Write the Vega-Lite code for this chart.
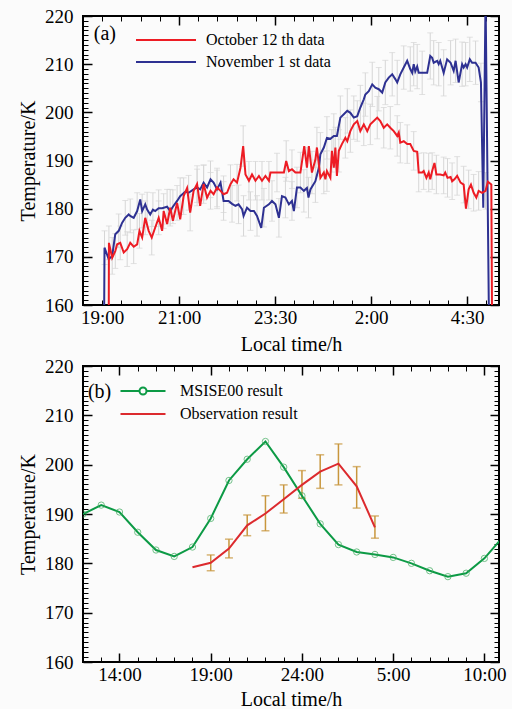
{
 "$schema": "https://vega.github.io/schema/vega-lite/v6.json",
 "background": "#fbfbfb",
 "padding": {"left": 17, "top": 6, "right": 4, "bottom": 2},
 "spacing": 1,
 "resolve": {"scale": {"color": "independent"}, "legend": {"color": "independent"}},
 "config": {
  "view": {"stroke": "#000000", "strokeWidth": 2},
  "font": "Liberation Serif",
  "axis": {"domain": false, "grid": false, "tickColor": "#000000", "labelFont": "Liberation Serif", "labelFontSize": 19, "labelColor": "#000000", "titleFont": "Liberation Serif", "titleFontSize": 20, "titleFontWeight": "normal", "titleColor": "#000000", "labelFlush": false, "labelOverlap": false},
  "legend": {"labelFont": "Liberation Serif", "labelFontSize": 16, "labelColor": "#000000", "padding": 0}
 },
 "datasets": {
  "a": [
   {"s":"nov","h":19.05,"T":158},{"s":"nov","h":19.06,"T":171.9,"e":3.5},{"s":"nov","h":19.17,"T":169.5},{"s":"nov","h":19.26,"T":170.2,"e":3.8},{"s":"nov","h":19.34,"T":174.7},{"s":"nov","h":19.43,"T":175.4,"e":3.5},{"s":"nov","h":19.52,"T":177.1},{"s":"nov","h":19.60,"T":178.1,"e":3.6},{"s":"nov","h":19.69,"T":178.8},{"s":"nov","h":19.73,"T":178.5,"e":3.5},{"s":"nov","h":19.82,"T":178.1},{"s":"nov","h":19.91,"T":179.5,"e":3.8},{"s":"nov","h":19.99,"T":181.9},{"s":"nov","h":20.04,"T":179.5,"e":3.5},{"s":"nov","h":20.12,"T":180.9},{"s":"nov","h":20.17,"T":179.8,"e":3.6},{"s":"nov","h":20.25,"T":178.8},{"s":"nov","h":20.32,"T":179.8,"e":3.5},{"s":"nov","h":20.38,"T":179.5},{"s":"nov","h":20.47,"T":180.1,"e":3.8},{"s":"nov","h":20.56,"T":180.1},{"s":"nov","h":20.69,"T":180.4,"e":3.6},{"s":"nov","h":20.77,"T":179.5},{"s":"nov","h":20.84,"T":180.4,"e":3.5},{"s":"nov","h":20.95,"T":181.6},{"s":"nov","h":21.03,"T":182.6,"e":3.8},{"s":"nov","h":21.16,"T":183.5},{"s":"nov","h":21.25,"T":183.3,"e":3.6},{"s":"nov","h":21.38,"T":184.0},{"s":"nov","h":21.47,"T":184.4,"e":3.8},{"s":"nov","h":21.55,"T":184.0},{"s":"nov","h":21.64,"T":185.4,"e":3.6},{"s":"nov","h":21.73,"T":184.4},{"s":"nov","h":21.82,"T":186.1,"e":3.8},{"s":"nov","h":21.90,"T":185.4},{"s":"nov","h":21.99,"T":184.0,"e":4.0},{"s":"nov","h":22.08,"T":185.4},{"s":"nov","h":22.16,"T":181.6,"e":4.0},{"s":"nov","h":22.29,"T":181.6},{"s":"nov","h":22.38,"T":181.0,"e":3.8},{"s":"nov","h":22.47,"T":180.6},{"s":"nov","h":22.55,"T":180.9,"e":4.0},{"s":"nov","h":22.64,"T":179.9},{"s":"nov","h":22.68,"T":178.5,"e":4.2},{"s":"nov","h":22.77,"T":180.2},{"s":"nov","h":22.86,"T":179.5,"e":4.0},{"s":"nov","h":22.95,"T":179.5},{"s":"nov","h":23.03,"T":178.5,"e":4.2},{"s":"nov","h":23.14,"T":176.0},{"s":"nov","h":23.21,"T":180.2,"e":4.0},{"s":"nov","h":23.34,"T":180.9},{"s":"nov","h":23.42,"T":181.6,"e":4.2},{"s":"nov","h":23.51,"T":180.9},{"s":"nov","h":23.60,"T":178.1,"e":4.0},{"s":"nov","h":23.68,"T":182.6},{"s":"nov","h":23.77,"T":182.3,"e":4.2},{"s":"nov","h":23.86,"T":180.9},{"s":"nov","h":23.94,"T":181.6,"e":4.0},{"s":"nov","h":23.99,"T":179.5},{"s":"nov","h":24.07,"T":184.4,"e":4.2},{"s":"nov","h":24.16,"T":184.4},{"s":"nov","h":24.25,"T":183.7,"e":4.4},{"s":"nov","h":24.33,"T":184.3},{"s":"nov","h":24.37,"T":182.3,"e":4.2},{"s":"nov","h":24.42,"T":184.0},{"s":"nov","h":24.55,"T":185.7,"e":4.4},{"s":"nov","h":24.64,"T":188.5},{"s":"nov","h":24.68,"T":191.3,"e":4.5},{"s":"nov","h":24.77,"T":192.7},{"s":"nov","h":24.85,"T":194.7,"e":4.4},{"s":"nov","h":24.94,"T":194.5},{"s":"nov","h":25.03,"T":195.1,"e":4.6},{"s":"nov","h":25.11,"T":195.1},{"s":"nov","h":25.20,"T":198.9,"e":4.5},{"s":"nov","h":25.29,"T":199.6},{"s":"nov","h":25.38,"T":200.3,"e":4.6},{"s":"nov","h":25.46,"T":199.9},{"s":"nov","h":25.55,"T":198.9,"e":4.5},{"s":"nov","h":25.64,"T":199.2},{"s":"nov","h":25.72,"T":201.0,"e":4.6},{"s":"nov","h":25.81,"T":202.7},{"s":"nov","h":25.85,"T":203.7,"e":4.5},{"s":"nov","h":25.94,"T":204.4},{"s":"nov","h":26.03,"T":205.8,"e":4.6},{"s":"nov","h":26.11,"T":205.1},{"s":"nov","h":26.20,"T":204.8,"e":4.5},{"s":"nov","h":26.29,"T":204.1},{"s":"nov","h":26.37,"T":206.2,"e":4.6},{"s":"nov","h":26.46,"T":207.2},{"s":"nov","h":26.55,"T":207.9,"e":4.5},{"s":"nov","h":26.63,"T":206.9},{"s":"nov","h":26.68,"T":206.2,"e":4.6},{"s":"nov","h":26.76,"T":207.9},{"s":"nov","h":26.85,"T":209.3,"e":4.5},{"s":"nov","h":26.94,"T":210.7},{"s":"nov","h":27.02,"T":209.0,"e":4.6},{"s":"nov","h":27.07,"T":208.2},{"s":"nov","h":27.11,"T":210.0,"e":4.5},{"s":"nov","h":27.15,"T":208.5},{"s":"nov","h":27.20,"T":209.5,"e":4.6},{"s":"nov","h":27.24,"T":208.2},{"s":"nov","h":27.33,"T":208.2,"e":4.5},{"s":"nov","h":27.46,"T":208.2},{"s":"nov","h":27.54,"T":211.7,"e":4.8},{"s":"nov","h":27.59,"T":211.3},{"s":"nov","h":27.63,"T":210.3,"e":4.6},{"s":"nov","h":27.72,"T":210.7},{"s":"nov","h":27.76,"T":210.0,"e":4.5},{"s":"nov","h":27.80,"T":210.7},{"s":"nov","h":27.89,"T":208.2,"e":4.8},{"s":"nov","h":27.98,"T":211.0},{"s":"nov","h":28.07,"T":210.3,"e":4.6},{"s":"nov","h":28.15,"T":208.6},{"s":"nov","h":28.20,"T":210.7,"e":4.5},{"s":"nov","h":28.28,"T":206.2},{"s":"nov","h":28.37,"T":210.0,"e":4.6},{"s":"nov","h":28.41,"T":209.3},{"s":"nov","h":28.46,"T":210.0,"e":4.5},{"s":"nov","h":28.50,"T":209.3},{"s":"nov","h":28.57,"T":211.0,"e":4.6},{"s":"nov","h":28.63,"T":210.3},{"s":"nov","h":28.72,"T":210.3,"e":4.5},{"s":"nov","h":28.80,"T":209.3},{"s":"nov","h":28.86,"T":206.2,"e":4.0},{"s":"nov","h":28.92,"T":180.2},{"s":"nov","h":28.98,"T":224},{"s":"nov","h":29.07,"T":156},
   {"s":"oct","h":19.17,"T":156},{"s":"oct","h":19.175,"T":172.9,"e":3.5},{"s":"oct","h":19.26,"T":169.8},{"s":"oct","h":19.34,"T":171.2,"e":3.6},{"s":"oct","h":19.39,"T":172.6},{"s":"oct","h":19.47,"T":172.9,"e":3.5},{"s":"oct","h":19.56,"T":170.9},{"s":"oct","h":19.65,"T":171.6,"e":3.6},{"s":"oct","h":19.73,"T":172.9},{"s":"oct","h":19.82,"T":172.1,"e":3.5},{"s":"oct","h":19.91,"T":172.6},{"s":"oct","h":19.97,"T":175.4,"e":3.6},{"s":"oct","h":20.04,"T":174.0},{"s":"oct","h":20.12,"T":178.1,"e":3.5},{"s":"oct","h":20.21,"T":175.4},{"s":"oct","h":20.29,"T":174.0,"e":3.6},{"s":"oct","h":20.38,"T":176.1},{"s":"oct","h":20.47,"T":178.1,"e":3.5},{"s":"oct","h":20.56,"T":175.4},{"s":"oct","h":20.60,"T":179.5,"e":3.6},{"s":"oct","h":20.69,"T":176.8},{"s":"oct","h":20.77,"T":180.2,"e":3.8},{"s":"oct","h":20.84,"T":177.5},{"s":"oct","h":20.95,"T":181.2,"e":3.6},{"s":"oct","h":21.03,"T":177.8},{"s":"oct","h":21.12,"T":182.6,"e":3.8},{"s":"oct","h":21.21,"T":184.3},{"s":"oct","h":21.29,"T":179.2,"e":3.8},{"s":"oct","h":21.38,"T":183.7},{"s":"oct","h":21.47,"T":185.1,"e":3.8},{"s":"oct","h":21.55,"T":180.6},{"s":"oct","h":21.64,"T":185.1,"e":4.0},{"s":"oct","h":21.73,"T":182.3},{"s":"oct","h":21.82,"T":183.7,"e":3.8},{"s":"oct","h":21.90,"T":183.0},{"s":"oct","h":21.99,"T":184.4,"e":4.0},{"s":"oct","h":22.08,"T":183.7},{"s":"oct","h":22.16,"T":183.0,"e":3.8},{"s":"oct","h":22.25,"T":183.3},{"s":"oct","h":22.34,"T":185.1,"e":4.0},{"s":"oct","h":22.42,"T":186.1},{"s":"oct","h":22.51,"T":185.4,"e":3.8},{"s":"oct","h":22.60,"T":188.5},{"s":"oct","h":22.67,"T":193.0,"e":4.2},{"s":"oct","h":22.73,"T":187.1},{"s":"oct","h":22.82,"T":185.8,"e":4.0},{"s":"oct","h":22.90,"T":187.1},{"s":"oct","h":22.99,"T":185.8,"e":4.0},{"s":"oct","h":23.08,"T":186.8},{"s":"oct","h":23.16,"T":185.8,"e":4.0},{"s":"oct","h":23.25,"T":186.8},{"s":"oct","h":23.34,"T":185.8,"e":4.0},{"s":"oct","h":23.38,"T":187.5},{"s":"oct","h":23.55,"T":187.5,"e":4.0},{"s":"oct","h":23.73,"T":187.5},{"s":"oct","h":23.79,"T":189.9,"e":4.2},{"s":"oct","h":23.86,"T":187.8},{"s":"oct","h":23.94,"T":188.2,"e":4.0},{"s":"oct","h":24.03,"T":187.5},{"s":"oct","h":24.16,"T":187.5,"e":4.2},{"s":"oct","h":24.26,"T":193.0},{"s":"oct","h":24.33,"T":188.5,"e":4.2},{"s":"oct","h":24.38,"T":193.0},{"s":"oct","h":24.46,"T":187.5,"e":4.4},{"s":"oct","h":24.55,"T":190.2},{"s":"oct","h":24.59,"T":192.7,"e":4.2},{"s":"oct","h":24.68,"T":186.4},{"s":"oct","h":24.77,"T":187.5,"e":4.4},{"s":"oct","h":24.81,"T":186.1},{"s":"oct","h":24.85,"T":187.8,"e":4.2},{"s":"oct","h":24.94,"T":186.4},{"s":"oct","h":24.98,"T":192.0,"e":4.4},{"s":"oct","h":25.03,"T":188.5},{"s":"oct","h":25.07,"T":192.7,"e":4.2},{"s":"oct","h":25.11,"T":186.8},{"s":"oct","h":25.16,"T":192.0,"e":4.4},{"s":"oct","h":25.24,"T":193.4},{"s":"oct","h":25.33,"T":194.7,"e":4.2},{"s":"oct","h":25.38,"T":194.0},{"s":"oct","h":25.46,"T":196.1,"e":4.4},{"s":"oct","h":25.55,"T":197.5},{"s":"oct","h":25.64,"T":198.2,"e":4.2},{"s":"oct","h":25.72,"T":196.1},{"s":"oct","h":25.81,"T":197.5,"e":4.4},{"s":"oct","h":25.90,"T":196.1},{"s":"oct","h":25.98,"T":197.5,"e":4.2},{"s":"oct","h":26.07,"T":198.2},{"s":"oct","h":26.16,"T":198.9,"e":4.4},{"s":"oct","h":26.24,"T":198.2},{"s":"oct","h":26.33,"T":196.8,"e":4.2},{"s":"oct","h":26.42,"T":197.5},{"s":"oct","h":26.50,"T":196.8,"e":4.4},{"s":"oct","h":26.59,"T":196.1},{"s":"oct","h":26.68,"T":195.1,"e":4.2},{"s":"oct","h":26.72,"T":195.8},{"s":"oct","h":26.76,"T":193.7,"e":4.2},{"s":"oct","h":26.85,"T":194.0},{"s":"oct","h":26.94,"T":193.4,"e":4.0},{"s":"oct","h":27.02,"T":193.4},{"s":"oct","h":27.11,"T":192.0,"e":4.0},{"s":"oct","h":27.20,"T":191.8},{"s":"oct","h":27.24,"T":187.5,"e":4.0},{"s":"oct","h":27.33,"T":187.5},{"s":"oct","h":27.37,"T":187.8,"e":3.8},{"s":"oct","h":27.44,"T":186.4},{"s":"oct","h":27.50,"T":187.5,"e":4.0},{"s":"oct","h":27.54,"T":186.1},{"s":"oct","h":27.59,"T":187.8,"e":3.8},{"s":"oct","h":27.65,"T":189.5},{"s":"oct","h":27.70,"T":187.1,"e":4.0},{"s":"oct","h":27.80,"T":187.1},{"s":"oct","h":27.89,"T":186.9,"e":3.8},{"s":"oct","h":27.93,"T":187.5},{"s":"oct","h":27.99,"T":186.4,"e":4.0},{"s":"oct","h":28.07,"T":186.6},{"s":"oct","h":28.11,"T":185.7,"e":3.8},{"s":"oct","h":28.17,"T":186.1},{"s":"oct","h":28.24,"T":186.8,"e":4.0},{"s":"oct","h":28.33,"T":185.4},{"s":"oct","h":28.41,"T":185.0,"e":3.8},{"s":"oct","h":28.47,"T":180.0},{"s":"oct","h":28.54,"T":184.0,"e":4.0},{"s":"oct","h":28.60,"T":185.0},{"s":"oct","h":28.67,"T":183.3,"e":3.8},{"s":"oct","h":28.74,"T":182.3},{"s":"oct","h":28.80,"T":183.7,"e":4.0},{"s":"oct","h":28.89,"T":183.3},{"s":"oct","h":28.98,"T":183.7,"e":3.8},{"s":"oct","h":29.04,"T":185.6},{"s":"oct","h":29.13,"T":185.0},{"s":"oct","h":29.15,"T":156}
  ],
  "bl": [
   {"s":"msis","h":12,"T":190.0},{"s":"msis","h":13,"T":191.8},{"s":"msis","h":14,"T":190.4},{"s":"msis","h":15,"T":186.3},{"s":"msis","h":16,"T":182.7},{"s":"msis","h":17,"T":181.4},{"s":"msis","h":18,"T":183.3},{"s":"msis","h":19,"T":189.1},{"s":"msis","h":20,"T":196.8},{"s":"msis","h":21,"T":201.1},{"s":"msis","h":22,"T":204.7},{"s":"msis","h":23,"T":199.5},{"s":"msis","h":24,"T":193.7},{"s":"msis","h":25,"T":188.0},{"s":"msis","h":26,"T":183.8},{"s":"msis","h":27,"T":182.3},{"s":"msis","h":28,"T":181.8},{"s":"msis","h":29,"T":181.2},{"s":"msis","h":30,"T":180.0},{"s":"msis","h":31,"T":178.5},{"s":"msis","h":32,"T":177.3},{"s":"msis","h":33,"T":178.0},{"s":"msis","h":34,"T":181.0},{"s":"msis","h":35,"T":185.3},
   {"s":"obs","h":18,"T":179.2},{"s":"obs","h":19,"T":180.1},{"s":"obs","h":20,"T":183.0},{"s":"obs","h":21,"T":187.7},{"s":"obs","h":22,"T":190.1},{"s":"obs","h":23,"T":193.0},{"s":"obs","h":24,"T":195.9},{"s":"obs","h":25,"T":198.6},{"s":"obs","h":26,"T":200.2},{"s":"obs","h":27,"T":195.6},{"s":"obs","h":28,"T":187.3}
  ],
  "be": [
   {"h":19,"lo":178.5,"hi":181.7},{"h":20,"lo":181.1,"hi":184.9},{"h":21,"lo":185.6,"hi":189.8},{"h":22,"lo":186.6,"hi":193.7},{"h":23,"lo":190.2,"hi":195.9},{"h":24,"lo":193.2,"hi":198.8},{"h":25,"lo":195.2,"hi":202.0},{"h":26,"lo":195.9,"hi":204.2},{"h":27,"lo":191.2,"hi":199.6},{"h":28,"lo":185.1,"hi":189.6}
  ]
 },
 "vconcat": [
  {
   "width": 416, "height": 289,
   "resolve": {"axis": {"x": "independent", "y": "independent"}},
   "layer": [
    {
     "data": {"name": "a"},
     "transform": [{"filter": "datum.s === 'nov' && isValid(datum.e)"}],
     "mark": {"type": "errorbar", "color": "#d6d6d6", "thickness": 1, "ticks": {"size": 6, "color": "#d6d6d6"}},
     "encoding": {
      "x": {"field": "h", "type": "quantitative", "scale": {"domain": [18.5, 29.33], "nice": false, "zero": false},
            "axis": {"orient": "bottom", "values": [19,19.5,20,20.5,21,21.5,22,22.5,23,23.5,24,24.5,25,25.5,26,26.5,27,27.5,28,28.5,29], "tickSize": -5, "tickWidth": 1, "labelPadding": 8, "labelExpr": "datum.value === 19 ? '19:00' : datum.value === 21 ? '21:00' : datum.value === 23.5 ? '23:30' : datum.value === 26 ? '2:00' : datum.value === 28.5 ? '4:30' : ''", "title": "Local time/h", "titlePadding": 7}},
      "y": {"field": "T", "type": "quantitative", "scale": {"domain": [160, 220], "nice": false, "zero": false},
            "axis": {"orient": "left", "values": [160,170,180,190,200,210,220], "tickSize": -9, "tickWidth": 1.5, "labelPadding": 19, "title": "Temperature/K", "titlePadding": 6}},
      "yError": {"field": "e"}
     }
    },
    {
     "data": {"name": "a"},
     "transform": [{"filter": "datum.s === 'oct' && isValid(datum.e)"}],
     "mark": {"type": "errorbar", "color": "#d6d6d6", "thickness": 1, "ticks": {"size": 6, "color": "#d6d6d6"}},
     "encoding": {
      "x": {"field": "h", "type": "quantitative", "scale": {"domain": [18.5, 29.33], "nice": false, "zero": false},
            "axis": {"orient": "bottom", "values": [21,23.5,26,28.5], "tickSize": -9, "tickWidth": 1.5, "labels": false, "title": null}},
      "y": {"field": "T", "type": "quantitative", "scale": {"domain": [160, 220], "nice": false, "zero": false},
            "axis": {"orient": "left", "values": [160,161,162,163,164,165,166,167,168,169,170,171,172,173,174,175,176,177,178,179,180,181,182,183,184,185,186,187,188,189,190,191,192,193,194,195,196,197,198,199,200,201,202,203,204,205,206,207,208,209,210,211,212,213,214,215,216,217,218,219,220], "tickSize": -5, "tickWidth": 1, "labels": false, "title": null}},
      "yError": {"field": "e"}
     }
    },
    {
     "data": {"name": "a"},
     "mark": {"type": "line", "strokeWidth": 2, "clip": true},
     "encoding": {
      "x": {"field": "h", "type": "quantitative", "scale": {"domain": [18.5, 29.33], "nice": false, "zero": false},
            "axis": {"orient": "top", "values": [21,23.5,26,28.5], "tickSize": -9, "tickWidth": 1.5, "labels": false, "title": null}},
      "y": {"field": "T", "type": "quantitative", "scale": {"domain": [160, 220], "nice": false, "zero": false},
            "axis": {"orient": "right", "values": [160,170,180,190,200,210,220], "tickSize": -9, "tickWidth": 1.5, "labels": false, "title": null}},
      "color": {"field": "s", "type": "nominal", "scale": {"domain": ["oct", "nov"], "range": ["#ed1c24", "#2e3192"]},
                "legend": {"orient": "none", "legendX": 75, "legendY": 16, "title": null, "symbolType": "M-6,0H6", "symbolSize": 100, "symbolStrokeWidth": 2, "labelOffset": 32, "rowPadding": 6, "labelExpr": "datum.value === 'oct' ? 'October 12 th data' : 'November 1 st data'"}}
     }
    },
    {
     "data": {"values": [{"h": 18.78, "T": 216.3, "label": "(a)"}]},
     "mark": {"type": "text", "align": "left", "baseline": "middle", "fontSize": 20, "font": "Liberation Serif", "color": "#000000"},
     "encoding": {
      "x": {"field": "h", "type": "quantitative", "scale": {"domain": [18.5, 29.33], "nice": false, "zero": false},
            "axis": {"orient": "top", "values": [19,19.5,20,20.5,21,21.5,22,22.5,23,23.5,24,24.5,25,25.5,26,26.5,27,27.5,28,28.5,29], "tickSize": -5, "tickWidth": 1, "labels": false, "title": null}},
      "y": {"field": "T", "type": "quantitative", "scale": {"domain": [160, 220], "nice": false, "zero": false},
            "axis": {"orient": "right", "values": [160,161,162,163,164,165,166,167,168,169,170,171,172,173,174,175,176,177,178,179,180,181,182,183,184,185,186,187,188,189,190,191,192,193,194,195,196,197,198,199,200,201,202,203,204,205,206,207,208,209,210,211,212,213,214,215,216,217,218,219,220], "tickSize": -5, "tickWidth": 1, "labels": false, "title": null}},
      "text": {"field": "label"}
     }
    }
   ]
  },
  {
   "width": 416, "height": 296,
   "resolve": {"axis": {"x": "independent", "y": "independent"}},
   "layer": [
    {
     "data": {"name": "be"},
     "mark": {"type": "errorbar", "color": "#c8963c", "thickness": 1.5, "ticks": {"size": 8, "color": "#c8963c"}},
     "encoding": {
      "x": {"field": "h", "type": "quantitative", "scale": {"domain": [12, 34.8], "nice": false, "zero": false},
            "axis": {"orient": "bottom", "values": [13,14,15,16,17,18,19,20,21,22,23,24,25,26,27,28,29,30,31,32,33,34], "tickSize": -5, "tickWidth": 1, "labelPadding": 8, "labelExpr": "datum.value === 14 ? '14:00' : datum.value === 19 ? '19:00' : datum.value === 24 ? '24:00' : datum.value === 29 ? '5:00' : datum.value === 34 ? '10:00' : ''", "title": "Local time/h", "titlePadding": 5}},
      "y": {"field": "lo", "type": "quantitative", "scale": {"domain": [160, 220], "nice": false, "zero": false},
            "axis": {"orient": "left", "values": [160,170,180,190,200,210,220], "tickSize": -9, "tickWidth": 1.5, "labelPadding": 19, "title": "Temperature/K", "titlePadding": 6}},
      "y2": {"field": "hi"}
     }
    },
    {
     "data": {"name": "bl"},
     "mark": {"type": "line", "strokeWidth": 2, "clip": true},
     "encoding": {
      "x": {"field": "h", "type": "quantitative", "scale": {"domain": [12, 34.8], "nice": false, "zero": false},
            "axis": {"orient": "bottom", "values": [14,19,24,29,34], "tickSize": -9, "tickWidth": 1.5, "labels": false, "title": null}},
      "y": {"field": "T", "type": "quantitative", "scale": {"domain": [160, 220], "nice": false, "zero": false},
            "axis": {"orient": "left", "values": [160,161,162,163,164,165,166,167,168,169,170,171,172,173,174,175,176,177,178,179,180,181,182,183,184,185,186,187,188,189,190,191,192,193,194,195,196,197,198,199,200,201,202,203,204,205,206,207,208,209,210,211,212,213,214,215,216,217,218,219,220], "tickSize": -5, "tickWidth": 1, "labels": false, "title": null}},
      "color": {"field": "s", "type": "nominal", "scale": {"domain": ["msis", "obs"], "range": ["#0c9a45", "#dc2a2e"]},
                "legend": {"orient": "none", "legendX": 52, "legendY": 17, "title": null, "symbolType": "M-4.5,0H4.5", "symbolSize": 100, "symbolStrokeWidth": 2, "symbolFillColor": "transparent", "labelOffset": 29, "rowPadding": 7, "labelExpr": "datum.value === 'msis' ? 'MSISE00 result' : 'Observation result'",
                           "encode": {"symbols": {"update": {"shape": {"signal": "datum.value === 'msis' ? 'M-4.5,0H-0.7M0.7,0H4.5M0.7,0A0.7,0.7,0,1,1,-0.7,0A0.7,0.7,0,1,1,0.7,0' : 'M-4.5,0H4.5'"}, "fill": {"value": "transparent"}}}}}}
     }
    },
    {
     "data": {"name": "bl"},
     "transform": [{"filter": "datum.s === 'msis'"}],
     "mark": {"type": "point", "shape": "circle", "filled": false, "size": 40, "strokeWidth": 1, "color": "#3aaa5a", "clip": true},
     "encoding": {
      "x": {"field": "h", "type": "quantitative", "scale": {"domain": [12, 34.8], "nice": false, "zero": false},
            "axis": {"orient": "top", "values": [14,19,24,29,34], "tickSize": -9, "tickWidth": 1.5, "labels": false, "title": null}},
      "y": {"field": "T", "type": "quantitative", "scale": {"domain": [160, 220], "nice": false, "zero": false},
            "axis": {"orient": "right", "values": [160,170,180,190,200,210,220], "tickSize": -9, "tickWidth": 1.5, "labels": false, "title": null}}
     }
    },
    {
     "data": {"values": [{"h": 12.27, "T": 214.8, "label": "(b)"}]},
     "mark": {"type": "text", "align": "left", "baseline": "middle", "fontSize": 20, "font": "Liberation Serif", "color": "#000000"},
     "encoding": {
      "x": {"field": "h", "type": "quantitative", "scale": {"domain": [12, 34.8], "nice": false, "zero": false},
            "axis": {"orient": "top", "values": [13,14,15,16,17,18,19,20,21,22,23,24,25,26,27,28,29,30,31,32,33,34], "tickSize": -5, "tickWidth": 1, "labels": false, "title": null}},
      "y": {"field": "T", "type": "quantitative", "scale": {"domain": [160, 220], "nice": false, "zero": false},
            "axis": {"orient": "right", "values": [160,161,162,163,164,165,166,167,168,169,170,171,172,173,174,175,176,177,178,179,180,181,182,183,184,185,186,187,188,189,190,191,192,193,194,195,196,197,198,199,200,201,202,203,204,205,206,207,208,209,210,211,212,213,214,215,216,217,218,219,220], "tickSize": -5, "tickWidth": 1, "labels": false, "title": null}},
      "text": {"field": "label"}
     }
    }
   ]
  }
 ]
}
